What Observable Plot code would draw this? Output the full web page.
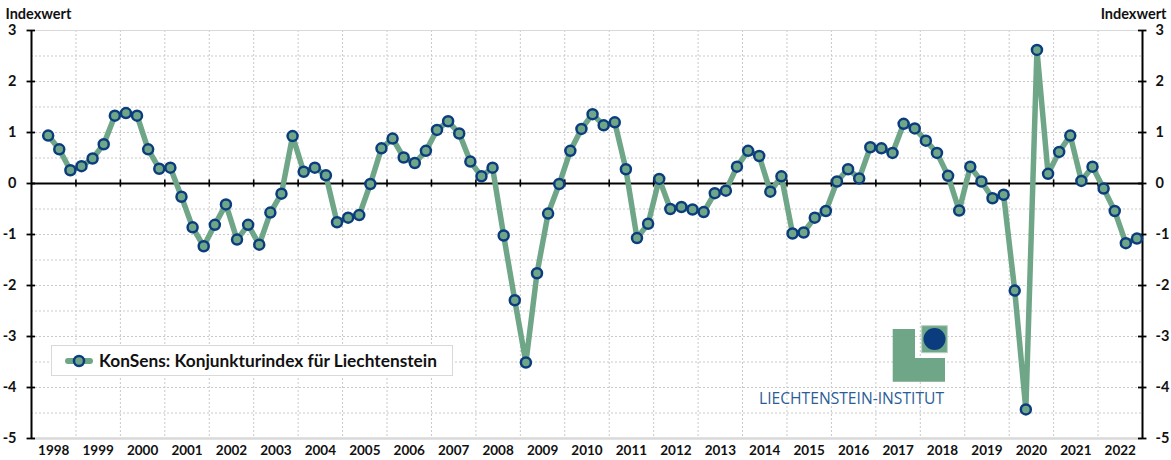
<!DOCTYPE html>
<html><head><meta charset="utf-8">
<script src="https://cdn.jsdelivr.net/npm/d3@7"></script>
<script src="https://cdn.jsdelivr.net/npm/@observablehq/plot@0.6"></script>
<style>
body{margin:0;background:#fff;}
#wrap{position:relative;width:1171px;height:460px;overflow:hidden;}
#overlay{position:absolute;left:0;top:0;pointer-events:none;}
</style></head><body><div id="wrap"></div>
<script>
// ---- data ----
const startYear = 1998;
const startQuarter = 2;
const values = [
  0.94, 0.67, 0.26, 0.34, 0.49, 0.77, 1.33, 1.38, 1.33, 0.67, 0.29, 0.31,
  -0.26, -0.86, -1.23, -0.81, -0.41, -1.10, -0.81, -1.20, -0.57, -0.20, 0.93, 0.23,
  0.31, 0.16, -0.76, -0.67, -0.62, -0.01, 0.69, 0.88, 0.51, 0.40, 0.64, 1.05,
  1.22, 0.98, 0.43, 0.14, 0.31, -1.02, -2.29, -3.51, -1.76, -0.59, -0.01, 0.64,
  1.07, 1.36, 1.14, 1.20, 0.28, -1.07, -0.79, 0.09, -0.50, -0.46, -0.51, -0.56,
  -0.19, -0.14, 0.33, 0.64, 0.54, -0.16, 0.14, -0.98, -0.96, -0.67, -0.54, 0.04,
  0.28, 0.10, 0.71, 0.69, 0.60, 1.17, 1.08, 0.84, 0.60, 0.15, -0.53,
  0.33, 0.04, -0.29, -0.22, -2.10, -4.43, 2.62, 0.19, 0.62, 0.94, 0.05, 0.33,
  -0.10, -0.54, -1.17, -1.08
];
const yearLabels = d3.range(1998, 2023);
const yearBounds = d3.range(1999, 2023);
const yTicks = d3.range(-5, 4);
const yHalfGrid = d3.range(-4.5, 3, 0.5).filter(d => d !== 0);
const seriesName = "KonSens: Konjunkturindex für Liechtenstein";
const axisTitle = "Indexwert";
const logoText = "LIECHTENSTEIN-INSTITUT";

const green = "#6fa688";
const navy = "#0b3d7e";
const gridColor = "#c9c9c9";

const data = values.map((v, i) => {
  const q = startQuarter - 1 + i;
  return {t: startYear + q / 4 + 0.125, v};
});

const W = 1171, H = 460;
const plot = Plot.plot({
  width: W, height: H,
  marginLeft: 31, marginRight: 29, marginTop: 30, marginBottom: 22,
  style: {fontFamily: "Lato, 'Open Sans', sans-serif", fontSize: "13px", fontWeight: "bold", color: "#111", background: "#fff"},
  x: {domain: [1998, 2023]},
  y: {domain: [-5, 3]},
  marks: [
    Plot.ruleY(yHalfGrid, {stroke: gridColor, strokeDasharray: "2,2"}),
    Plot.ruleX(yearBounds, {stroke: gridColor, strokeDasharray: "2,2"}),
    Plot.ruleY([3], {stroke: "#d9d9d9", strokeWidth: 1.2}),
    Plot.ruleY([-5], {stroke: "#d9d9d9", strokeWidth: 2.5}),
    Plot.ruleY([0], {stroke: "#000", strokeWidth: 2}),
    Plot.ruleX(yearBounds, {y1: -0.07, y2: 0.07, stroke: "#000", strokeWidth: 1.6}),
    Plot.ruleX([1998, 2023], {stroke: "#000", strokeWidth: 2}),
    Plot.ruleY(yTicks, {x1: 1998 - 0.1, x2: 1998 + 0.09, stroke: "#000", strokeWidth: 1.8}),
    Plot.ruleY(yTicks, {x1: 2023 - 0.09, x2: 2023 + 0.1, stroke: "#000", strokeWidth: 1.8}),
    Plot.axisY({anchor: "left", ticks: yTicks, tickSize: 0, tickPadding: 15, label: null, fontSize: 14.5, tickFormat: d => String(d)}),
    Plot.axisY({anchor: "right", ticks: yTicks, tickSize: 0, tickPadding: 13, label: null, fontSize: 14.5, tickFormat: d => String(d)}),
    Plot.axisX({ticks: yearLabels.map(y => y + 0.5), tickFormat: d => String(Math.floor(d)), tickSize: 0, tickPadding: 7, label: null, fontSize: 13.5}),
    Plot.text([axisTitle], {frameAnchor: "top-left", dx: -26, dy: -22, textAnchor: "start", fontSize: 14.5, fontWeight: "bold"}),
    Plot.text([axisTitle], {frameAnchor: "top-right", dx: 24, dy: -22, textAnchor: "end", fontSize: 14.5, fontWeight: "bold"}),
    Plot.line(data, {x: "t", y: "v", stroke: green, strokeWidth: 5.5, strokeLinejoin: "round"}),
    Plot.dot(data, {x: "t", y: "v", r: 5, fill: green, stroke: navy, strokeWidth: 2.5})
  ]
});
const wrap = document.getElementById("wrap");
wrap.appendChild(plot);

// overlay: legend + logo
const ov = d3.select(wrap).append("svg").attr("id", "overlay").attr("width", W).attr("height", H);
const lg = ov.append("g");
lg.append("rect").attr("x", 51.5).attr("y", 345.5).attr("width", 401).attr("height", 30)
  .attr("fill", "#fff").attr("stroke", "#d9d9d9");
lg.append("line").attr("x1", 68).attr("x2", 90).attr("y1", 361).attr("y2", 361)
  .attr("stroke", green).attr("stroke-width", 6).attr("stroke-linecap", "round");
lg.append("circle").attr("cx", 79).attr("cy", 361).attr("r", 5)
  .attr("fill", green).attr("stroke", navy).attr("stroke-width", 2.5);
lg.append("text").attr("x", 99).attr("y", 361).attr("dominant-baseline", "central")
  .attr("font-family", "Lato, 'Open Sans', sans-serif").attr("font-weight", "bold").attr("font-size", 16.5)
  .attr("fill", "#111").attr("textLength", 338).attr("lengthAdjust", "spacingAndGlyphs").text(seriesName);

const logo = ov.append("g");
logo.append("path").attr("d", "M892.7,329 H915 V358 H945 V381.7 H892.7 Z").attr("fill", green);
logo.append("rect").attr("x", 921.7).attr("y", 325.7).attr("width", 25.6).attr("height", 27)
  .attr("fill", green).attr("stroke", "#b5d3c2").attr("stroke-width", 1);
logo.append("circle").attr("cx", 934.5).attr("cy", 339).attr("r", 11).attr("fill", navy);
logo.append("text").attr("x", 759).attr("y", 404)
  .attr("font-family", "'Open Sans', Lato, sans-serif").attr("font-size", 15.5)
  .attr("fill", "#2a5d98").attr("textLength", 185).attr("lengthAdjust", "spacingAndGlyphs").text(logoText);
</script>
</body></html>
